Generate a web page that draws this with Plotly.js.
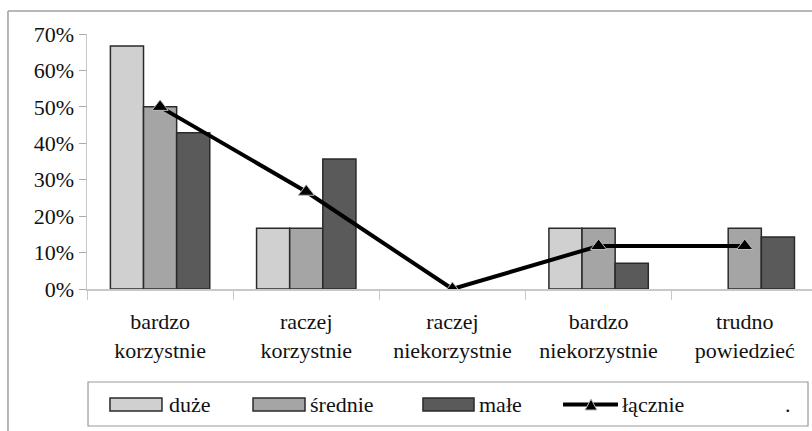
<!DOCTYPE html>
<html>
<head>
<meta charset="utf-8">
<script src="https://cdn.plot.ly/plotly-3.0.1.min.js"></script>
<style>
html,body{margin:0;padding:0;background:#fff;}
#chart{width:812px;height:431px;}
#fontwarm{position:absolute;left:0;top:0;font-family:'Liberation Serif';font-size:2px;color:#fff;}
</style>
</head>
<body>
<div id="chart"></div>
<div id="fontwarm">a</div>
<script>
const categories = ["bardzo<br>korzystnie", "raczej<br>korzystnie", "raczej<br>niekorzystnie", "bardzo<br>niekorzystnie", "trudno<br>powiedzieć"];
const duze    = [0.667, 0.167, 0, 0.167, 0];
const srednie = [0.50, 0.167, 0, 0.167, 0.167];
const male    = [0.429, 0.357, 0, 0.071, 0.143];
const lacznie = [0.50, 0.267, 0, 0.118, 0.118];
const yTicks = [0, 0.1, 0.2, 0.3, 0.4, 0.5, 0.6, 0.7];
const yTickLabels = ["0%", "10%", "20%", "30%", "40%", "50%", "60%", "70%"];
const seriesNames = ["duże", "średnie", "małe", "łącznie"];
const seriesColors = ["#d0d0d0", "#a5a5a5", "#5a5a5a", "#000000"];

const font = "Liberation Serif";
const outline = "#2a2a2a";
function barTrace(name, values, color) {
  return {type: "bar", name: name, x: categories, y: values, showlegend: false,
          marker: {color: color, line: {color: outline, width: values.map(v => v > 0 ? 1.5 : 0)}}};
}
const traces = [
  barTrace(seriesNames[0], duze, seriesColors[0]),
  barTrace(seriesNames[1], srednie, seriesColors[1]),
  barTrace(seriesNames[2], male, seriesColors[2]),
  {type: "scatter", mode: "lines+markers", name: seriesNames[3], x: categories, y: lacznie, showlegend: false,
   line: {color: "#000", width: 4},
   marker: {symbol: "triangle-up", size: 14, color: "#000", line: {color: "#bbb", width: 1}}}
];

// Custom legend (paper coordinates relative to the plot area)
const swY0 = -0.4275, swY1 = -0.4784, legY = -0.453;
const swatchX = [[0.0317, 0.1034], [0.2290, 0.3007], [0.4634, 0.5338]];
const textX = [0.1103, 0.3048, 0.5379, 0.7352];
const shapes = [
  {type: "line", xref: "paper", yref: "paper", x0: -0.109, x1: 1.01, y0: 1.09, y1: 1.09, line: {color: "#a0a0a0", width: 1.5}},
  {type: "line", xref: "paper", yref: "paper", x0: -0.109, x1: -0.109, y0: 1.09, y1: -0.6, line: {color: "#a0a0a0", width: 1.5}},
  {type: "rect", xref: "paper", yref: "paper", x0: 0.0014, x1: 0.9945, y0: -0.3647, y1: -0.5373, line: {color: "#999", width: 1.2}},
  {type: "line", xref: "paper", yref: "paper", x0: 0.6566, x1: 0.7324, y0: legY, y1: legY, line: {color: "#000", width: 4}},
  {type: "path", xref: "paper", yref: "paper", path: "M0.6869,-0.4745 L0.7034,-0.4745 L0.6952,-0.4314 Z", fillcolor: "#000", line: {color: "#bbb", width: 1}}
];
swatchX.forEach((sx, i) => shapes.push({type: "rect", xref: "paper", yref: "paper", x0: sx[0], x1: sx[1], y0: swY0, y1: swY1,
  fillcolor: seriesColors[i], line: {color: outline, width: 1.5}}));
const annotations = seriesNames.map((n, i) => ({xref: "paper", yref: "paper", x: textX[i], y: legY, xanchor: "left", yanchor: "middle",
  text: n, showarrow: false, font: {family: font, size: 22, color: "#111"}}));
annotations.push({xref: "paper", yref: "paper", x: 0.9669, y: legY, xanchor: "center", yanchor: "middle", text: ".", showarrow: false,
  font: {family: font, size: 22, color: "#111"}});

const layout = {
  width: 812, height: 431,
  margin: {l: 87, r: 0, t: 34, b: 142},
  paper_bgcolor: "#fff", plot_bgcolor: "#fff",
  barmode: "group", bargap: 0.32, bargroupgap: 0,
  showlegend: false,
  xaxis: {type: "category", range: [-0.5, 4.46], showgrid: false, zeroline: false,
          showline: true, linecolor: "#c8c8c8", linewidth: 1.5,
          ticks: "outside", tickson: "boundaries", ticklen: 9, tickcolor: "#c8c8c8",
          ticklabelstandoff: 12,
          tickfont: {family: font, size: 22, color: "#111"}, fixedrange: true},
  yaxis: {range: [0, 0.7], tickvals: yTicks, ticktext: yTickLabels, showgrid: false, zeroline: false,
          showline: true, linecolor: "#c8c8c8", linewidth: 1.5,
          ticks: "outside", ticklen: 7, tickcolor: "#aaa",
          tickfont: {family: font, size: 22, color: "#111"}, fixedrange: true},
  shapes: shapes,
  annotations: annotations
};
Plotly.newPlot("chart", traces, layout, {displayModeBar: false, staticPlot: true});
</script>
</body>
</html>
